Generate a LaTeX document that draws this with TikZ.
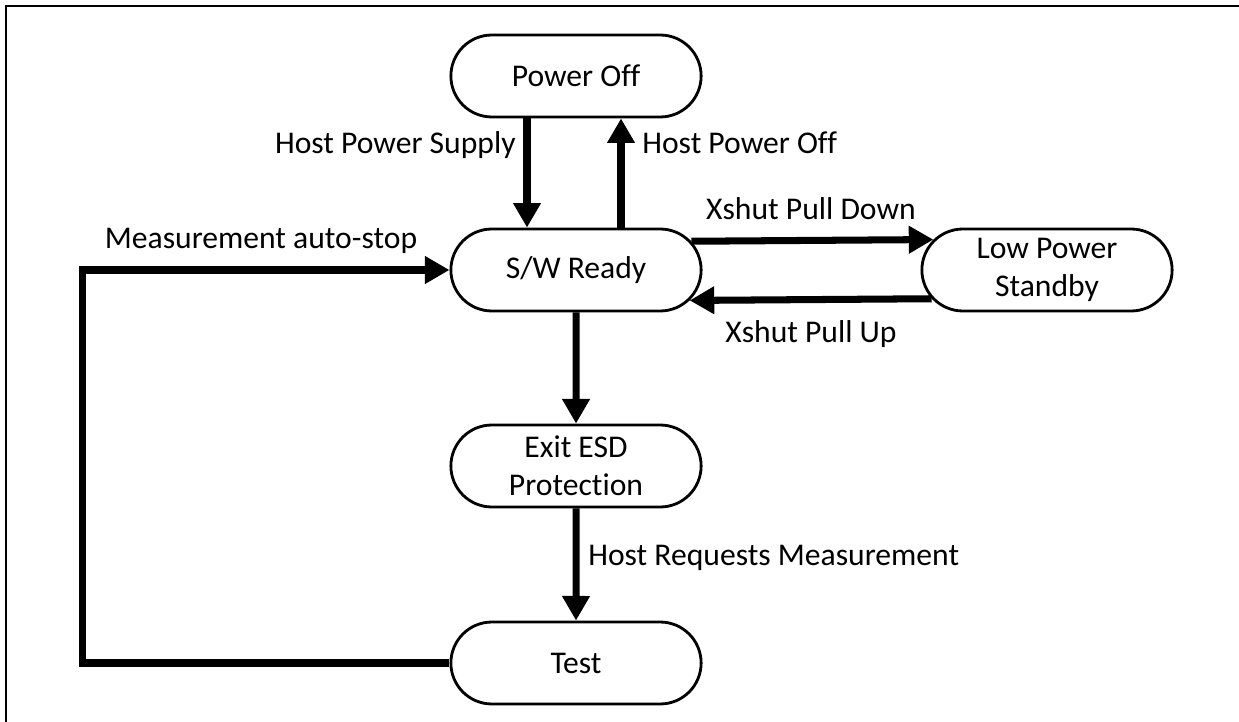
\documentclass[tikz,border=0pt]{standalone}
\usepackage{fontspec}
\setmainfont{Carlito}[Ligatures=NoCommon]
\usetikzlibrary{arrows.meta,shapes.misc,calc}

\begin{document}
\begin{tikzpicture}[x=0.02cm, y=-0.02cm,
  state/.style={draw, line width=1.6pt, rounded rectangle,
    minimum width=5.24cm, minimum height=1.64cm, align=center,
    font=\fontsize{18}{21.5}\selectfont},
  flow/.style={line width=4pt, -{Triangle[width=15pt,length=14pt]}},
  lbl/.style={font=\fontsize{18}{21}\selectfont, inner sep=0pt}]
  \useasboundingbox (0,0) rectangle (1239,722);
  \draw[line width=1.4pt] (6,722) -- (6,6) -- (1239,6);
  % states
  \node[state] (off) at (576,76) {Power Off};
  \node[state] (ready) at (576,270) {S/W Ready};
  \node[state] (standby) at (1047,270) {Low Power\\Standby};
  \node[state] (esd) at (576,466) {Exit ESD\\Protection};
  \node[state] (test) at (576,663) {Test};
  % transitions
  \draw[flow] ($(off.south)+(-49,0)$) -- ($(ready.north)+(-49,0)$);
  \draw[flow] ($(ready.north)+(45,0)$) -- ($(off.south)+(45,0)$);
  \draw[flow] (ready.14.3) -- (standby.165.7);
  \draw[flow] (standby.194.3) -- (ready.345.7);
  \draw[flow] (ready) -- (esd);
  \draw[flow] (esd) -- (test);
  \draw[flow] (test.west) -- ++(-367,0) |- (ready.west);
  % labels
  \node[lbl, anchor=base east] (supply) at (516,154) {Host Power Supply};
  \node[lbl, anchor=base west] (hostoff) at (642,154) {Host Power Off};
  \node[lbl, anchor=base] (pulldown) at (811,220) {Xshut Pull Down};
  \node[lbl, anchor=base] (pullup) at (811,343) {Xshut Pull Up};
  \node[lbl, anchor=base] (autostop) at (261,249) {Measurement auto-stop};
  \node[lbl, anchor=base west] (request) at (588,565) {Host Requests Measurement};
\end{tikzpicture}
\end{document}
